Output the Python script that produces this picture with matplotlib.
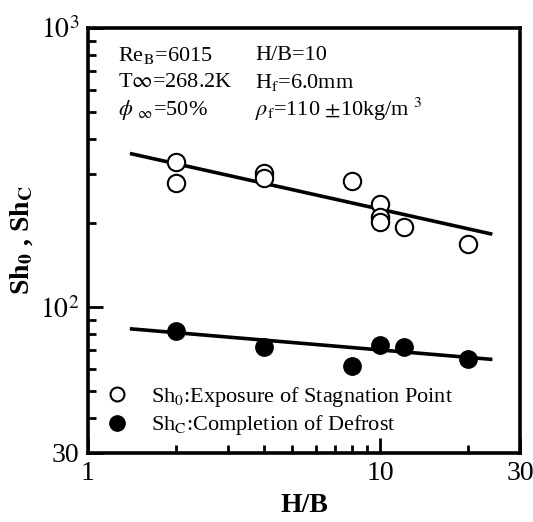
import numpy as np
import matplotlib
matplotlib.use("Agg")
import matplotlib.pyplot as plt
from matplotlib.lines import Line2D
from matplotlib.ticker import LogLocator, NullFormatter

plt.rcParams['font.family'] = ['Liberation Serif', 'DejaVu Serif']
plt.rcParams['mathtext.fontset'] = 'stix'

# Sh0: exposure of stagnation point (open circles)
hb_open = [2, 2, 4, 4, 8, 10, 10, 10, 12, 20]
sh0 = [332, 278, 302, 289, 282, 234, 211, 202, 193, 168]

# ShC: completion of defrost (filled circles)
hb_fill = [2, 4, 8, 10, 12, 20]
shc = [82.2, 71.9, 61.7, 73.2, 72.2, 65.2]

# fitted lines (end points)
fit_hb = [1.41, 23.8]
fit_sh0 = [354, 183]
fit_shc = [83.5, 65.0]

fig = plt.figure(figsize=(5.33, 5.22), dpi=100)
ax = fig.add_axes([0.1651, 0.1322, 0.8105, 0.8142])

ax.plot(fit_hb, fit_sh0, color='black', lw=2.6)
ax.plot(fit_hb, fit_shc, color='black', lw=2.6)
ax.plot(hb_open, sh0, 'o', ms=12.5, mfc='white', mec='black', mew=1.5, ls='none')
ax.plot(hb_fill, shc, 'o', ms=12.5, mfc='black', mec='black', ls='none')

ax.set_xscale('log')
ax.set_yscale('log')
ax.set_xlim(1, 30)
ax.set_ylim(30, 1000)

ax.set_xticks([1, 10, 30])
ax.set_xticklabels(['1', '10', '30'])
ax.xaxis.set_minor_locator(LogLocator(base=10, subs=np.arange(2, 10)))
ax.xaxis.set_minor_formatter(NullFormatter())
ax.set_yticks([30, 100, 1000])
ax.set_yticklabels(['30', r'$10^2$', r'$10^3$'])
ax.yaxis.set_minor_locator(LogLocator(base=10, subs=np.arange(2, 10)))
ax.yaxis.set_minor_formatter(NullFormatter())

ax.tick_params(which='both', direction='in', top=False, right=False, width=2, labelsize=20)
ax.tick_params(which='major', length=11, pad=6)
ax.tick_params(which='minor', length=6)
for s in ax.spines.values():
    s.set_linewidth(2.6)

ax.set_xlabel('H/B', fontsize=20, fontweight='bold', labelpad=5)
ax.set_ylabel(r'Sh$_\mathbf{0}$ , Sh$_\mathbf{C}$', fontsize=20, fontweight='bold', labelpad=4)

fs = 16
tx1, tx2 = 0.07, 0.387
ty = [0.935, 0.872, 0.808]
ax.text(tx1, ty[0], r'Re$_\mathrm{B}$=6015', transform=ax.transAxes, fontsize=fs, va='center')
ax.text(tx1, ty[1], r'T$\infty$=268.2K', transform=ax.transAxes, fontsize=fs, va='center')
ax.text(tx1, ty[2], r'$\phi$ $_\infty$=50%', transform=ax.transAxes, fontsize=fs, va='center')
ax.text(tx2, ty[0], 'H/B=10', transform=ax.transAxes, fontsize=fs, va='center')
ax.text(tx2, ty[1], r'H$_\mathrm{f}$=6.0mm', transform=ax.transAxes, fontsize=fs, va='center')
ax.text(tx2, ty[2], r'$\rho_\mathrm{f}$=110 $\pm$10kg/m $^3$', transform=ax.transAxes, fontsize=fs, va='center')

handles = [
    Line2D([], [], marker='o', ls='none', ms=10, mfc='white', mec='black', mew=1.5),
    Line2D([], [], marker='o', ls='none', ms=11, mfc='black', mec='black'),
]
labels = [r'Sh$_0$:Exposure of Stagnation Point', r'Sh$_\mathrm{C}$:Completion of Defrost']
ax.legend(handles, labels, loc='lower left', bbox_to_anchor=(-0.012, -0.005), frameon=False,
          fontsize=fs, handletextpad=0.75, labelspacing=0.2, borderpad=0.3, handlelength=1.5)

fig.savefig('out.png', dpi=100)
